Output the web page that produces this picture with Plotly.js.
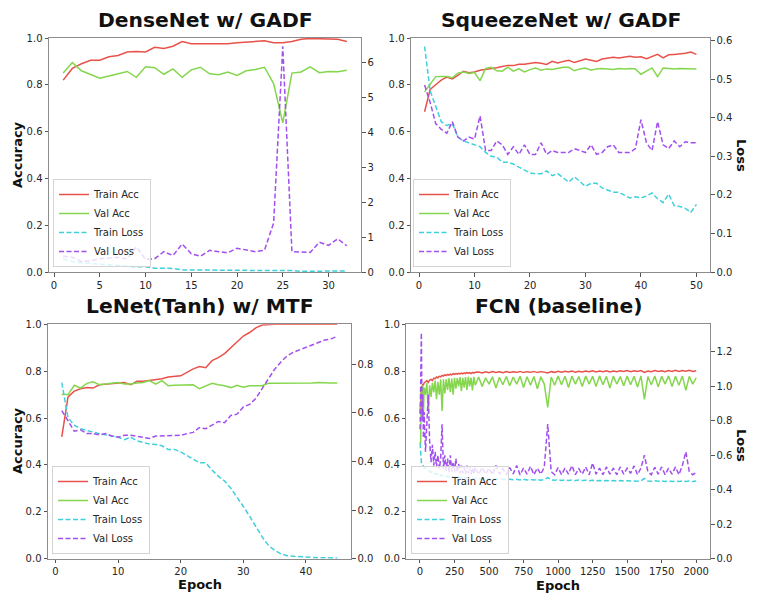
<!DOCTYPE html>
<html><head><meta charset="utf-8">
<script src="https://cdn.plot.ly/plotly-3.0.1.min.js"></script>
<style>html,body{margin:0;padding:0;background:#fff}#c{width:759px;height:604px}</style>
</head><body><div id="c"></div>
<script>
// ---- DenseNet w/ GADF ----
const denseEpoch = Array.from({length:32},(_,i)=>i+1);
const denseTrainAcc = [0.82,0.87,0.89,0.905,0.905,0.92,0.925,0.94,0.942,0.94,0.96,0.955,0.965,0.985,0.975,0.975,0.976,0.978,0.975,0.98,0.983,0.987,0.988,0.98,0.98,0.985,0.995,0.998,0.997,0.996,0.995,0.985];
const denseValAcc = [0.85,0.895,0.86,0.845,0.828,0.838,0.848,0.857,0.832,0.877,0.873,0.845,0.868,0.832,0.864,0.875,0.847,0.843,0.855,0.84,0.86,0.865,0.875,0.805,0.637,0.85,0.855,0.877,0.852,0.857,0.856,0.862];
const denseTrainLoss = [0.38,0.3,0.26,0.24,0.22,0.2,0.18,0.16,0.15,0.15,0.11,0.11,0.1,0.06,0.06,0.065,0.06,0.055,0.06,0.05,0.045,0.045,0.04,0.045,0.055,0.04,0.02,0.02,0.02,0.015,0.015,0.03];
const denseValLoss = [0.45,0.42,0.3,0.32,0.38,0.4,0.42,0.38,0.72,0.36,0.38,0.58,0.47,0.8,0.52,0.45,0.62,0.58,0.55,0.68,0.62,0.58,0.62,1.4,6.45,0.58,0.57,0.56,0.85,0.76,0.95,0.75];

// ---- SqueezeNet w/ GADF ----
const sqzEpoch = Array.from({length:50},(_,i)=>i+1);
const sqzTrainAcc = [0.685,0.78,0.8,0.82,0.833,0.825,0.84,0.858,0.852,0.855,0.862,0.865,0.87,0.873,0.878,0.883,0.882,0.888,0.888,0.89,0.895,0.892,0.887,0.9,0.893,0.9,0.905,0.895,0.902,0.91,0.905,0.9,0.91,0.915,0.918,0.915,0.918,0.922,0.918,0.92,0.912,0.922,0.93,0.915,0.928,0.93,0.932,0.935,0.94,0.93];
const sqzValAcc = [0.77,0.805,0.835,0.836,0.835,0.83,0.85,0.855,0.848,0.852,0.818,0.87,0.875,0.86,0.858,0.875,0.858,0.868,0.855,0.865,0.872,0.862,0.868,0.865,0.87,0.875,0.875,0.86,0.868,0.872,0.862,0.868,0.87,0.868,0.865,0.87,0.868,0.87,0.868,0.845,0.86,0.872,0.835,0.872,0.87,0.868,0.87,0.87,0.868,0.868];
const sqzTrainLoss = [0.585,0.47,0.43,0.39,0.38,0.385,0.35,0.34,0.335,0.33,0.325,0.31,0.3,0.298,0.285,0.285,0.28,0.272,0.265,0.257,0.255,0.255,0.262,0.25,0.255,0.243,0.233,0.247,0.235,0.222,0.23,0.23,0.218,0.212,0.207,0.207,0.2,0.192,0.195,0.192,0.197,0.205,0.19,0.18,0.202,0.172,0.17,0.165,0.155,0.175];
const sqzValLoss = [0.485,0.44,0.385,0.37,0.36,0.39,0.35,0.34,0.35,0.345,0.405,0.315,0.315,0.34,0.33,0.305,0.325,0.305,0.33,0.305,0.305,0.335,0.305,0.315,0.31,0.31,0.31,0.32,0.315,0.31,0.33,0.305,0.31,0.325,0.33,0.31,0.31,0.31,0.32,0.395,0.335,0.315,0.39,0.33,0.32,0.34,0.325,0.338,0.335,0.335];

// ---- LeNet(Tanh) w/ MTF ----
const leEpoch = Array.from({length:45},(_,i)=>i+1);
const leTrainAcc = [0.52,0.69,0.715,0.725,0.73,0.728,0.742,0.745,0.748,0.75,0.752,0.742,0.757,0.757,0.76,0.762,0.768,0.775,0.778,0.78,0.795,0.81,0.82,0.815,0.845,0.858,0.875,0.9,0.925,0.95,0.965,0.985,0.997,1.0,1.0,1.0,1.0,1.0,1.0,1.0,1.0,1.0,1.0,1.0,1.0];
const leValAcc = [0.7,0.7,0.74,0.728,0.748,0.755,0.742,0.745,0.748,0.752,0.745,0.745,0.75,0.752,0.76,0.745,0.76,0.738,0.74,0.74,0.742,0.742,0.725,0.735,0.748,0.742,0.738,0.73,0.74,0.732,0.738,0.738,0.738,0.748,0.748,0.748,0.748,0.749,0.749,0.75,0.75,0.752,0.75,0.75,0.75];
const leTrainLoss = [0.725,0.58,0.55,0.535,0.528,0.52,0.515,0.51,0.505,0.5,0.49,0.5,0.485,0.478,0.472,0.47,0.465,0.45,0.45,0.44,0.425,0.41,0.395,0.395,0.365,0.34,0.32,0.29,0.255,0.215,0.175,0.13,0.09,0.055,0.035,0.02,0.012,0.01,0.008,0.006,0.005,0.004,0.004,0.003,0.003];
const leValLoss = [0.61,0.565,0.525,0.53,0.515,0.515,0.51,0.515,0.505,0.5,0.508,0.508,0.503,0.5,0.495,0.505,0.505,0.508,0.508,0.508,0.515,0.52,0.54,0.535,0.55,0.565,0.56,0.59,0.595,0.625,0.635,0.66,0.7,0.74,0.78,0.81,0.835,0.85,0.86,0.87,0.88,0.89,0.9,0.905,0.915];

const fcnEpoch = [1,5,10,15,20,25,30,40,50,60,70,80,90,100,110,120,130,140,150,160,170,180,190,200,210,220,230,240,250,260,270,280,290,300,310,320,330,340,350,360,370,380,390,400,
425,450,475,500,525,550,575,600,625,650,675,700,725,750,775,800,825,850,875,900,925,950,975,1000,
1025,1050,1075,1100,1125,1150,1175,1200,1225,1250,1275,1300,1325,1350,1375,1400,1425,1450,1475,1500,1525,1550,1575,1600,
1625,1650,1675,1700,1725,1750,1775,1800,1825,1850,1875,1900,1925,1950,1975,2000];
const fcnTrainAcc = [0.62,0.70,0.735,0.73,0.745,0.74,0.75,0.755,0.76,0.752,0.762,0.765,0.76,0.77,0.768,0.775,0.772,0.778,0.776,0.782,0.779,0.785,0.781,0.786,0.783,0.787,0.784,0.789,0.786,0.79,0.787,0.791,0.788,0.792,0.789,0.793,0.79,0.794,0.791,0.794,0.79,0.795,0.792,0.795,
0.796,0.792,0.797,0.793,0.798,0.794,0.797,0.793, 0.798,0.794,0.797,0.795,0.799,0.794,0.798,0.795, 0.799,0.794,0.798,0.796,0.792,0.798,0.795,0.8,
0.796,0.8,0.797,0.801,0.796,0.8,0.797,0.801, 0.798,0.802,0.797,0.801,0.798,0.802,0.797,0.801, 0.798,0.802,0.799,0.803,0.798,0.802,0.799,0.803,
0.795,0.801,0.798,0.803,0.799,0.802,0.798,0.803, 0.799,0.804,0.799,0.803,0.8,0.804,0.799,0.802];
const fcnValAcc = [0.5,0.49,0.72,0.66,0.74,0.6,0.73,0.7,0.75,0.62,0.74,0.69,0.75,0.71,0.76,0.68,0.755,0.7,0.765,0.63,0.765,0.705,0.765,0.72,0.77,0.71,0.768,0.7,0.772,0.725,0.77,0.735,0.775,0.715,0.772,0.73,0.775,0.72,0.776,0.735,0.772,0.718,0.776,0.74,
0.775,0.735,0.772,0.745,0.776,0.728,0.774,0.742, 0.777,0.738,0.775,0.745,0.778,0.73,0.776,0.74, 0.777,0.725,0.776,0.745,0.645,0.775,0.74,0.779,
0.742,0.778,0.73,0.779,0.745,0.777,0.735,0.779, 0.745,0.778,0.735,0.78,0.742,0.778,0.728,0.779, 0.745,0.777,0.738,0.779,0.742,0.778,0.732,0.78,
0.68,0.777,0.742,0.779,0.733,0.778,0.745,0.78, 0.735,0.778,0.74,0.779,0.718,0.778,0.745,0.772];
const fcnTrainLoss = [0.67,0.6,0.56,0.55,0.54,0.535,0.53,0.525,0.52,0.51,0.505,0.5,0.505,0.495,0.49,0.495,0.485,0.49,0.48,0.485,0.478,0.482,0.476,0.48,0.474,0.478,0.472,0.476,0.47,0.474,0.469,0.473,0.468,0.471,0.467,0.47,0.466,0.469,0.465,0.468,0.464,0.467,0.463,0.466,
0.462,0.465,0.461,0.464,0.46,0.463,0.459,0.462, 0.458,0.461,0.458,0.46,0.457,0.46,0.456,0.459, 0.456,0.458,0.455,0.458,0.47,0.457,0.455,0.458,
0.454,0.457,0.454,0.456,0.453,0.456,0.453,0.455, 0.452,0.455,0.452,0.454,0.451,0.454,0.451,0.453, 0.45,0.453,0.45,0.452,0.45,0.452,0.449,0.452,
0.465,0.451,0.449,0.452,0.449,0.451,0.448,0.451, 0.448,0.45,0.448,0.451,0.448,0.45,0.447,0.45];
const fcnValLoss = [0.75,1.25,1.31,0.8,0.95,0.7,0.85,0.62,0.75,0.95,0.68,0.56,0.66,0.54,0.62,0.53,0.6,0.52,0.58,0.78,0.52,0.6,0.51,0.58,0.5,0.6,0.505,0.56,0.5,0.58,0.5,0.55,0.495,0.54,0.495,0.53,0.49,0.54,0.495,0.53,0.49,0.525,0.49,0.53,
0.488,0.53,0.49,0.525,0.487,0.54,0.49,0.522, 0.487,0.528,0.492,0.54,0.486,0.525,0.49,0.535, 0.487,0.525,0.49,0.53,0.78,0.505,0.487,0.528,
0.487,0.525,0.49,0.54,0.487,0.522,0.49,0.532, 0.486,0.555,0.49,0.525,0.487,0.532,0.49,0.525, 0.487,0.532,0.49,0.525,0.495,0.538,0.487,0.525,
0.6,0.505,0.487,0.53,0.49,0.532,0.487,0.525, 0.49,0.532,0.487,0.54,0.62,0.505,0.487,0.5];

const seriesNames = ['Train Acc','Val Acc','Train Loss','Val Loss'];
const colors = ['#e8524b','#84d64c','#3fd0dc','#a24ff0'];
const titles = ['DenseNet w/ GADF','SqueezeNet w/ GADF','LeNet(Tanh) w/ MTF','FCN (baseline)'];

const FONT = 'DejaVu Sans, Liberation Sans, sans-serif';
const W = 759, H = 604;
const px = v => v / W, py = v => 1 - v / H;

const panels = [
  {x:denseEpoch, d:[denseTrainAcc,denseValAcc,denseTrainLoss,denseValLoss], xr:[1-1.55,32+1.55], xdt:5, lr:[0,6.69], ldt:1, lfmt:'d',
   box:[49,361,38,272], leg:[53,267]},
  {x:sqzEpoch, d:[sqzTrainAcc,sqzValAcc,sqzTrainLoss,sqzValLoss], xr:[1-2.45,50+2.45], xdt:10, lr:[0,0.607], ldt:0.1, lfmt:'.1f',
   box:[411,710,38,272], leg:[413,267]},
  {x:leEpoch, d:[leTrainAcc,leValAcc,leTrainLoss,leValLoss], xr:[1-2.2,45+2.2], xdt:10, lr:[0,0.965], ldt:0.2, lfmt:'.1f',
   box:[48,351,324.3,558.7], leg:[52,554]},
  {x:fcnEpoch, d:[fcnTrainAcc,fcnValAcc,fcnTrainLoss,fcnValLoss], xr:[1-99.95,2000+99.95], xdt:250, lr:[0,1.359], ldt:0.2, lfmt:'.1f',
   box:[406.3,710,324.3,558.7], leg:[411,554]}
];

const axBase = {showline:true, linecolor:'#8c8c8c', linewidth:1, ticks:'outside', ticklen:3.5, tickwidth:1, tickcolor:'#555',
  tickfont:{family:FONT, size:10, color:'#262626'}, showgrid:false, zeroline:false, fixedrange:true};

const traces = [];
const layout = {width:W, height:H, margin:{l:0,r:0,t:0,b:0}, paper_bgcolor:'#fff', plot_bgcolor:'#fff', annotations:[], showlegend:true,
  font:{family:FONT}};

panels.forEach((p,i) => {
  const n = i+1;
  const xName = n===1 ? 'x' : 'x'+n;
  const yA = 2*i+1, yL = 2*i+2;
  const yAName = yA===1 ? 'y' : 'y'+yA;
  const yLName = 'y'+yL;
  const legName = n===1 ? 'legend' : 'legend'+n;
  const [x0,x1,y0,y1] = p.box;
  layout[n===1?'xaxis':'xaxis'+n] = Object.assign({}, axBase, {domain:[px(x0),px(x1)], range:p.xr, dtick:p.xdt, tick0:0, anchor:yAName, mirror:true});
  layout[yA===1?'yaxis':'yaxis'+yA] = Object.assign({}, axBase, {domain:[py(y1),py(y0)], range:[0,1], dtick:0.2, tickformat:'.1f', anchor:xName});
  layout['yaxis'+yL] = Object.assign({}, axBase, {overlaying:yAName, side:'right', anchor:xName, range:p.lr, dtick:p.ldt, tickformat:p.lfmt});
  layout[legName] = {x:px(p.leg[0]), y:py(p.leg[1]), xanchor:'left', yanchor:'bottom', xref:'paper', yref:'paper',
    bgcolor:'rgba(255,255,255,0.8)', bordercolor:'#d4d4d4', borderwidth:1, font:{family:FONT, size:10, color:'#262626'},
    itemwidth:30, tracegroupgap:0, traceorder:'normal'};
  p.d.forEach((vals,k) => {
    const isLoss = k>=2;
    traces.push({type:'scatter', mode:'lines', x:p.x, y:vals, name:seriesNames[k], legend:legName,
      xaxis:xName, yaxis:isLoss?yLName:yAName,
      line:{color:colors[k], width:1.5, dash:isLoss?'5px,2.5px':'solid'}, hoverinfo:'skip'});
  });
  layout.annotations.push({text:'<b>'+titles[i]+'</b>', xref:'paper', yref:'paper', x:px((x0+x1)/2), y:py(y0-18), xanchor:'center', yanchor:'middle', showarrow:false,
    font:{family:FONT, size:20.3, color:'#111'}});
});

// axis titles
const axTitle = (t,x,y,rot) => ({text:'<b>'+t+'</b>', xref:'paper', yref:'paper', x:px(x), y:py(y), xanchor:'center', yanchor:'middle', showarrow:false, textangle:rot, font:{family:FONT, size:13, color:'#111'}});
layout.annotations.push(axTitle('Accuracy',17,155,-90));
layout.annotations.push(axTitle('Accuracy',17,441,-90));
layout.annotations.push(axTitle('Loss',742,155,90));
layout.annotations.push(axTitle('Loss',742,445,90));
layout.annotations.push(axTitle('Epoch',200,584,0));
layout.annotations.push(axTitle('Epoch',558,585,0));

Plotly.newPlot('c', traces, layout, {staticPlot:true, displayModeBar:false});
</script></body></html>
